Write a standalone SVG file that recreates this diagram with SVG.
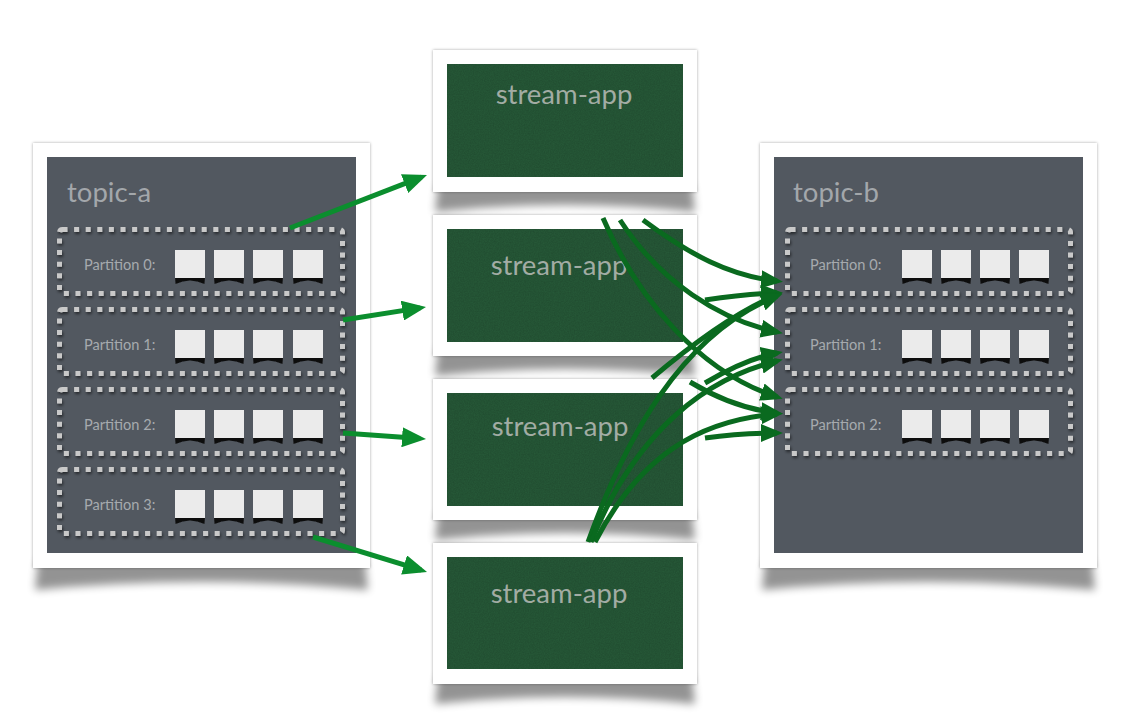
<svg xmlns="http://www.w3.org/2000/svg" xmlns:xlink="http://www.w3.org/1999/xlink" width="1133" height="726" viewBox="0 0 1133 726">
<defs>
<style>
.frame{fill:#ffffff;filter:url(#edge)}
.topic{fill:#525860}
.app{fill:#275b39}
.ttl{font-family:Lato,"Liberation Sans",sans-serif;font-size:27.5px;fill:#a3a7ab}
.apptxt{font-family:Lato,"Liberation Sans",sans-serif;font-size:27.5px;fill:#a2aca4;text-anchor:middle}
.plbl{font-family:Lato,"Liberation Sans",sans-serif;font-size:14.6px;fill:#a6aaae}
.pbox{fill:none;stroke:#c9c9c9;stroke-width:5;stroke-dasharray:5 6.6;filter:url(#dsh)}
.curl{fill:#000;opacity:0.42;filter:url(#blur)}
.ga{fill:none;stroke:#0b8e2e;stroke-width:5;marker-end:url(#ag)}
.da{fill:none;stroke:#0a6a1f;stroke-width:5;marker-end:url(#ad)}
</style>
<filter id="edge" x="-5%" y="-5%" width="110%" height="110%"><feDropShadow dx="0" dy="0" stdDeviation="1.6" flood-color="#000" flood-opacity="0.35"/></filter>
<filter id="dsh" x="-5%" y="-10%" width="110%" height="125%"><feDropShadow dx="1" dy="2" stdDeviation="1.5" flood-color="#000" flood-opacity="0.55"/></filter>
<filter id="blur" x="-10%" y="-50%" width="120%" height="200%"><feGaussianBlur stdDeviation="4"/></filter>
<filter id="sblur" x="-20%" y="-50%" width="140%" height="200%"><feGaussianBlur stdDeviation="0.7"/></filter>
<filter id="noise" x="0" y="0" width="100%" height="100%"><feTurbulence type="fractalNoise" baseFrequency="0.8" numOctaves="2" stitchTiles="stitch"/><feColorMatrix type="matrix" values="0 0 0 0 0  0 0 0 0 0  0 0 0 0 0  0 0 0 0.18 0"/><feComposite in2="SourceGraphic" operator="in"/></filter>
<marker id="ag" viewBox="0 0 24 20" refX="18" refY="10" markerWidth="24" markerHeight="20" markerUnits="userSpaceOnUse" orient="auto"><path d="M0,0 L24,10 L0,20 Z" fill="#0b8e2e"/></marker>
<marker id="ad" viewBox="0 0 22 18" refX="16" refY="9" markerWidth="22" markerHeight="18" markerUnits="userSpaceOnUse" orient="auto"><path d="M0,0 L22,9 L0,18 Z" fill="#0a6a1f"/></marker>
<g id="sq">
<path d="M0,27 L30,27 L29.5,34 Q15,27 0.5,34 Z" fill="#111" filter="url(#sblur)"/>
<rect x="0" y="0" width="30" height="28" fill="#ebebeb"/>
</g>
</defs>

<g id="shadows">
<path class="curl" d="M38,560 L365,560 L368,590 Q201,574 35,590 Z"/>
<path class="curl" d="M765,560 L1092,560 L1095,590 Q928,574 762,590 Z"/>
<path class="curl" d="M438,184 L692,184 L695,212 Q565,198 435,212 Z"/>
<path class="curl" d="M438,348 L692,348 L695,376 Q565,362 435,376 Z"/>
<path class="curl" d="M438,512 L692,512 L695,540 Q565,526 435,540 Z"/>
<path class="curl" d="M438,676 L692,676 L695,704 Q565,690 435,704 Z"/>
</g>

<g id="topic-a">
<rect class="frame" x="33" y="143" width="337" height="425"/>
<rect class="topic" x="47" y="157" width="309" height="396"/>
<text class="ttl" x="67" y="202">topic-a</text>
<g id="a-p0">
<rect class="pbox" x="59.5" y="229.5" width="283" height="64" rx="3"/>
<text class="plbl" x="84" y="270">Partition 0:</text>
<use xlink:href="#sq" x="175" y="250"/><use xlink:href="#sq" x="214" y="250"/><use xlink:href="#sq" x="253" y="250"/><use xlink:href="#sq" x="293" y="250"/>
</g>
<g id="a-p1">
<rect class="pbox" x="59.5" y="309.5" width="283" height="64" rx="3"/>
<text class="plbl" x="84" y="350">Partition 1:</text>
<use xlink:href="#sq" x="175" y="330"/><use xlink:href="#sq" x="214" y="330"/><use xlink:href="#sq" x="253" y="330"/><use xlink:href="#sq" x="293" y="330"/>
</g>
<g id="a-p2">
<rect class="pbox" x="59.5" y="389.5" width="283" height="64" rx="3"/>
<text class="plbl" x="84" y="430">Partition 2:</text>
<use xlink:href="#sq" x="175" y="410"/><use xlink:href="#sq" x="214" y="410"/><use xlink:href="#sq" x="253" y="410"/><use xlink:href="#sq" x="293" y="410"/>
</g>
<g id="a-p3">
<rect class="pbox" x="59.5" y="469.5" width="283" height="64" rx="3"/>
<text class="plbl" x="84" y="510">Partition 3:</text>
<use xlink:href="#sq" x="175" y="490"/><use xlink:href="#sq" x="214" y="490"/><use xlink:href="#sq" x="253" y="490"/><use xlink:href="#sq" x="293" y="490"/>
</g>
</g>

<g id="topic-b">
<rect class="frame" x="760" y="143" width="337" height="425"/>
<rect class="topic" x="774" y="157" width="309" height="396"/>
<text class="ttl" x="793" y="202">topic-b</text>
<g id="b-p0">
<rect class="pbox" x="787.5" y="229.5" width="283" height="64" rx="3"/>
<text class="plbl" x="810" y="270">Partition 0:</text>
<use xlink:href="#sq" x="902" y="250"/><use xlink:href="#sq" x="941" y="250"/><use xlink:href="#sq" x="980" y="250"/><use xlink:href="#sq" x="1019" y="250"/>
</g>
<g id="b-p1">
<rect class="pbox" x="787.5" y="309.5" width="283" height="64" rx="3"/>
<text class="plbl" x="810" y="350">Partition 1:</text>
<use xlink:href="#sq" x="902" y="330"/><use xlink:href="#sq" x="941" y="330"/><use xlink:href="#sq" x="980" y="330"/><use xlink:href="#sq" x="1019" y="330"/>
</g>
<g id="b-p2">
<rect class="pbox" x="787.5" y="389.5" width="283" height="64" rx="3"/>
<text class="plbl" x="810" y="430">Partition 2:</text>
<use xlink:href="#sq" x="902" y="410"/><use xlink:href="#sq" x="941" y="410"/><use xlink:href="#sq" x="980" y="410"/><use xlink:href="#sq" x="1019" y="410"/>
</g>
</g>

<g id="stream-app-1">
<rect class="frame" x="433" y="50" width="264" height="142"/>
<rect class="app" x="447" y="64" width="236" height="113"/>
<rect x="447" y="64" width="236" height="113" fill="#275b39" filter="url(#noise)"/>
<text class="apptxt" x="564" y="104">stream-app</text>
</g>
<g id="stream-app-2">
<rect class="frame" x="433" y="215" width="264" height="141"/>
<rect class="app" x="447" y="229" width="236" height="113"/>
<rect x="447" y="229" width="236" height="113" fill="#275b39" filter="url(#noise)"/>
<text class="apptxt" x="559" y="275">stream-app</text>
</g>
<g id="stream-app-3">
<rect class="frame" x="433" y="379" width="264" height="141"/>
<rect class="app" x="447" y="393" width="236" height="113"/>
<rect x="447" y="393" width="236" height="113" fill="#275b39" filter="url(#noise)"/>
<text class="apptxt" x="560" y="436">stream-app</text>
</g>
<g id="stream-app-4">
<rect class="frame" x="433" y="543" width="264" height="141"/>
<rect class="app" x="447" y="557" width="236" height="112"/>
<rect x="447" y="557" width="236" height="112" fill="#275b39" filter="url(#noise)"/>
<text class="apptxt" x="559" y="603">stream-app</text>
</g>

<g id="connectors">
<path class="ga" d="M290,228 L421.4,177.2"/>
<path class="ga" d="M343,320 L420.1,307.9"/>
<path class="ga" d="M343,433 L420,438.6"/>
<path class="ga" d="M313,537 L421.3,570.2"/>

<path class="da" d="M643,220 C690,255 730,276 777,281"/>
<path class="da" d="M620,220 C660,282 720,320 777,332"/>
<path class="da" d="M603,218 C638,300 700,372 777,397"/>
<path class="da" d="M705,300 Q745,294 777,293"/>
<path class="da" d="M652,378 C690,346 735,312 777,295"/>
<path class="da" d="M588,542 C625,440 680,335 777,296"/>
<path class="da" d="M705,383 C730,368 755,357 777,353"/>
<path class="da" d="M591,542 C628,450 690,382 777,361"/>
<path class="da" d="M690,382 C720,400 750,410 777,413"/>
<path class="da" d="M595,542 C640,455 700,420 777,414"/>
<path class="da" d="M705,438 Q740,433 777,433"/>
</g>
</svg>
